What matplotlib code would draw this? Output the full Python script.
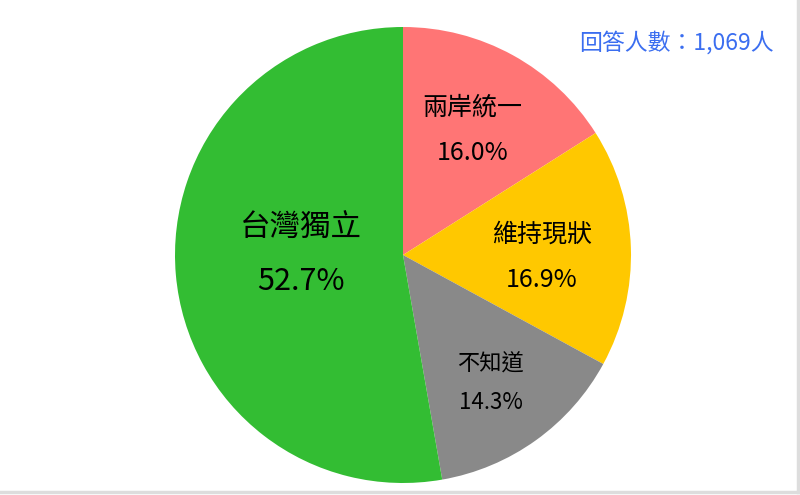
import matplotlib
matplotlib.use("Agg")
import matplotlib.pyplot as plt
import numpy as np

plt.rcParams['font.family'] = ['Noto Sans CJK TC', 'DejaVu Sans']

# data
labels = ["兩岸統一", "維持現狀", "不知道", "台灣獨立"]
values = [16.0, 16.9, 14.3, 52.7]
colors = ["#FF7575", "#FFC800", "#898989", "#33BD33"]
note = "回答人數：1,069人"

# label layout (radius from centre, vertical nudge, font size, gap between lines)
label_r = [0.63, 0.61, 0.66, 0.45]
label_dy = [-0.005, -0.03, -0.025, 0.0]
label_fs = [18, 18, 16, 22]
label_gap = [0.20, 0.20, 0.17, 0.23]

W, H = 800, 495
fig = plt.figure(figsize=(8, 4.95), dpi=100)
cx, cy, R = 403, 255, 228
ax = fig.add_axes([(cx - R) / W, (H - cy - R) / H, 2 * R / W, 2 * R / H])
wedges, _ = ax.pie(values, colors=colors, startangle=90, counterclock=False,
                   radius=1, wedgeprops=dict(linewidth=0))
ax.set_xlim(-1, 1)
ax.set_ylim(-1, 1)
ax.set_aspect('equal')
ax.axis('off')

for w, lab, v, r, dy, fs, gap in zip(wedges, labels, values, label_r, label_dy, label_fs, label_gap):
    ang = np.deg2rad((w.theta1 + w.theta2) / 2)
    x, y = r * np.cos(ang), r * np.sin(ang) + dy
    if lab == "台灣獨立":
        y = 0.0
    ax.text(x, y + gap / 2, lab, ha='center', va='center', fontsize=fs, color='black')
    ax.text(x, y - gap / 2, f"{v:.1f}%", ha='center', va='center', fontsize=fs, color='black')

fig.text(676 / W, 1 - 43 / H, note, ha='center', va='center', fontsize=16.5, color='#3B6EF0')

# light frame at right and bottom
fig.add_artist(plt.Line2D([797.5 / W, 797.5 / W], [1 - 491.5 / H, 1], color='#DDDDDD', lw=2.5, transform=fig.transFigure))
fig.add_artist(plt.Line2D([0, 797.5 / W], [1 - 491.5 / H, 1 - 491.5 / H], color='#DDDDDD', lw=2.5, transform=fig.transFigure))

fig.savefig("out.png", dpi=100)
